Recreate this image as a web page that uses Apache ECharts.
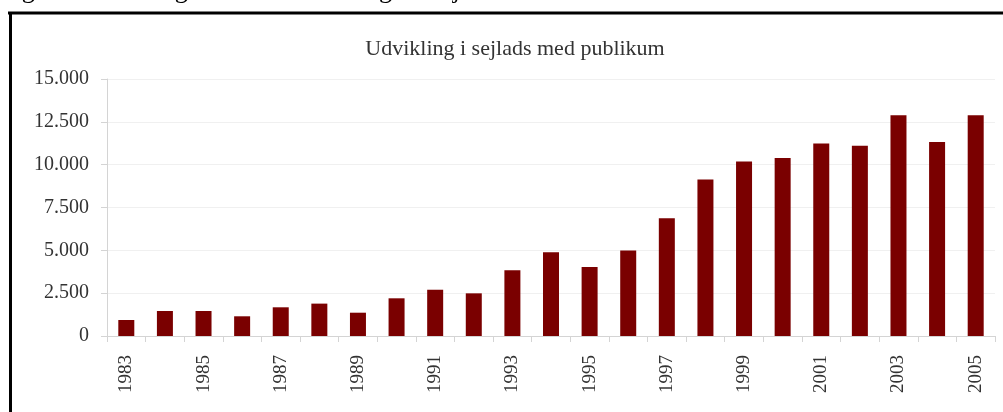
<!DOCTYPE html>
<html>
<head>
<meta charset="utf-8">
<script src="https://cdn.jsdelivr.net/npm/echarts@6/dist/echarts.min.js"></script>
<style>
html,body{margin:0;padding:0;background:#fff;}
#c{width:1003px;height:412px;}
</style>
</head>
<body>
<div id="c"></div>
<script>
const years = ['1983','1984','1985','1986','1987','1988','1989','1990','1991','1992','1993','1994','1995','1996','1997','1998','1999','2000','2001','2002','2003','2004','2005'];
const guests = [934,1460,1460,1150,1675,1890,1360,2200,2700,2490,3835,4890,4030,4985,6870,9140,10180,10390,11230,11100,12890,11330,12890];
const yTicks = [0,2500,5000,7500,10000,12500,15000];
const chartTitle = 'Udvikling i sejlads med publikum';
const figCaption = 'Figur 14 - Antal gæster der har deltaget i sejlads 1983 - 2005';

const fmt = v => v === 0 ? '0' : String(v).replace(/\B(?=(\d{3})+(?!\d))/g, '.');
const serif = '"Liberation Serif", "DejaVu Serif", serif';

const chart = echarts.init(document.getElementById('c'), null, {renderer:'canvas'});
chart.setOption({
  animation:false,
  backgroundColor:'#ffffff',
  title:{
    text:chartTitle,
    left:510, top:33, textAlign:'center',
    textStyle:{fontFamily:serif,fontSize:22,fontWeight:'normal',color:'#333333'}
  },
  graphic:[
    {type:'text', left:0, top:-22, style:{text:figCaption, font:'26px "Liberation Serif", serif', fill:'#000'}},
    {type:'line', shape:{x1:8, y1:13, x2:1003, y2:13}, style:{stroke:'#000', lineWidth:3}},
    {type:'line', shape:{x1:10.5, y1:12, x2:10.5, y2:412}, style:{stroke:'#000', lineWidth:3}}
  ],
  grid:{left:107, right:8, top:79, bottom:76, containLabel:false},
  xAxis:{
    type:'category',
    data:years,
    axisLine:{lineStyle:{color:'#d4d4d4',width:1}},
    axisTick:{show:true,alignWithLabel:false,interval:0,length:6,lineStyle:{color:'#d4d4d4'}},
    axisLabel:{interval:1,rotate:90,margin:19,fontFamily:serif,fontSize:19,color:'#333333'}
  },
  yAxis:{
    type:'value',
    min:yTicks[0], max:yTicks[yTicks.length-1], interval:2500,
    axisLine:{show:true,lineStyle:{color:'#d4d4d4'}},
    axisTick:{show:true,length:6,lineStyle:{color:'#d4d4d4'}},
    splitLine:{lineStyle:{color:'#f0f0f0'}},
    axisLabel:{margin:18,fontFamily:serif,fontSize:20,color:'#333333',formatter:fmt}
  },
  series:[{
    type:'bar',
    data:guests,
    barWidth:16,
    itemStyle:{color:'#7a0000'}
  }]
});
</script>
</body>
</html>
